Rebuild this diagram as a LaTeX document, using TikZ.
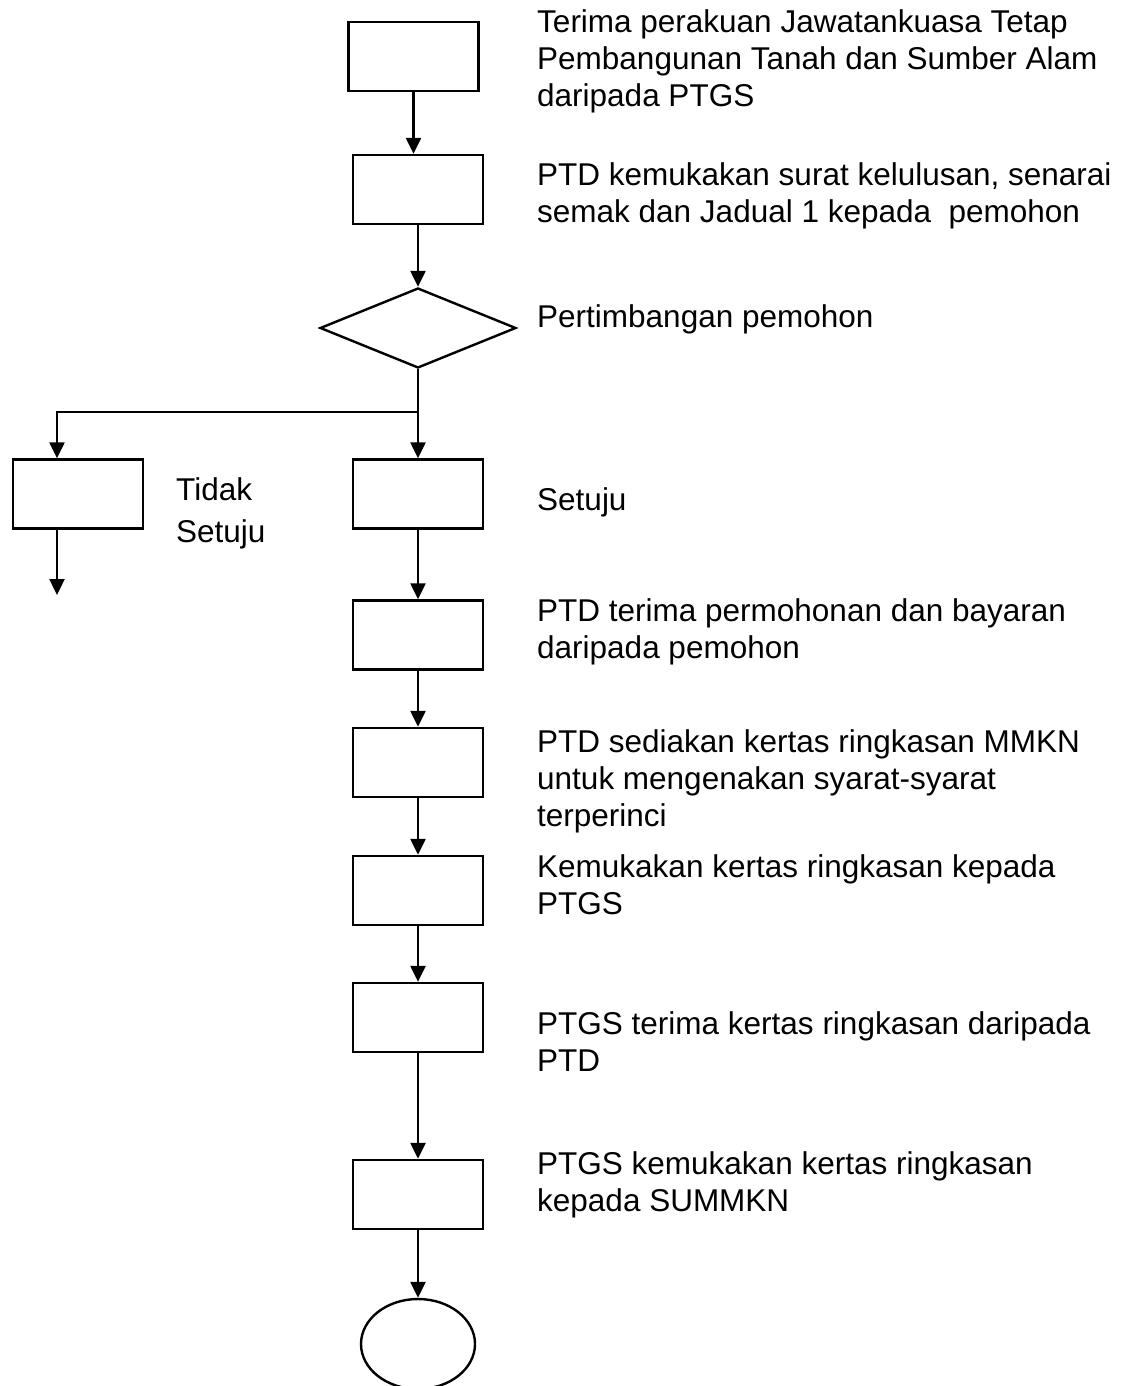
\documentclass[tikz,border=0pt]{standalone}
\usepackage{fontspec}
\setmainfont{Liberation Sans}
\usetikzlibrary{arrows.meta,shapes.geometric}

\tikzset{
  stepbox/.style={draw, line width=2.4pt, minimum width=130pt, minimum height=69pt, inner sep=0pt},
  decision/.style={draw, diamond, line width=2.4pt, minimum width=196pt, minimum height=80pt, inner sep=0pt},
  endoval/.style={draw, ellipse, line width=2.4pt, minimum width=114pt, minimum height=90pt, inner sep=0pt},
  flow/.style={line width=2.4pt, -{Triangle[length=16pt,width=15pt]}},
  note/.style={anchor=base west, align=left, inner sep=0pt, font=\fontsize{31.5}{37}\selectfont},
}

\begin{document}
\begin{tikzpicture}[x=1pt,y=-1pt]
  \useasboundingbox (0,0) rectangle (1132,1386);

  % boxes of the flow
  \node[stepbox] (terima) at (413.5,56.5) {};
  \node[stepbox] (hantar) at (418,189.5) {};
  \node[decision] (timbang) at (418,328) {};
  \node[stepbox] (tolak) at (78,494) {};
  \node[stepbox] (setuju) at (418,494) {};
  \node[stepbox] (bayar) at (418,635) {};
  \node[stepbox] (sedia) at (418,762.5) {};
  \node[stepbox] (kemuka) at (418,890.5) {};
  \node[stepbox] (ptgs) at (418,1017.5) {};
  \node[stepbox] (summkn) at (418,1194.5) {};
  \node[endoval] (tamat) at (418,1344) {};

  \coordinate (cabang) at (418,412);
  \coordinate (keluar) at (57,595);

  % connectors
  \draw[flow] (terima.south) -- (terima.south |- hantar.north);
  \draw[flow] (hantar.south) -- (timbang.north);
  \draw[line width=2.4pt] (timbang.south) -- (cabang);
  \draw[flow] (cabang) -- (setuju.north);
  \draw[flow] (cabang) -| (keluar |- tolak.north);
  \draw[flow] (keluar |- tolak.south) -- (keluar);
  \foreach \a/\b in {setuju/bayar, bayar/sedia, sedia/kemuka, kemuka/ptgs, ptgs/summkn, summkn/tamat}
    \draw[flow] (\a.south) -- (\b.north);

  % labels (placed at the baseline of their last line)
  \node[note] (t1) at (537,107) {Terima perakuan Jawatankuasa Tetap\\Pembangunan Tanah dan Sumber Alam\\daripada PTGS};
  \node[note] (t2) at (537,222) {PTD kemukakan surat kelulusan, senarai\\semak dan Jadual 1 kepada\ \ pemohon};
  \node[note] (t3) at (537,327) {Pertimbangan pemohon};
  \node[note, font=\fontsize{31.5}{42}\selectfont] (t4) at (176,542) {Tidak\\Setuju};
  \node[note] (t5) at (537,510) {Setuju};
  \node[note] (t6) at (537,658) {PTD terima permohonan dan bayaran\\daripada pemohon};
  \node[note] (t7) at (537,826) {PTD sediakan kertas ringkasan MMKN\\untuk mengenakan syarat-syarat\\terperinci};
  \node[note] (t8) at (537,914) {Kemukakan kertas ringkasan kepada\\PTGS};
  \node[note] (t9) at (537,1071) {PTGS terima kertas ringkasan daripada\\PTD};
  \node[note] (t10) at (537,1211) {PTGS kemukakan kertas ringkasan\\kepada SUMMKN};
\end{tikzpicture}
\end{document}
